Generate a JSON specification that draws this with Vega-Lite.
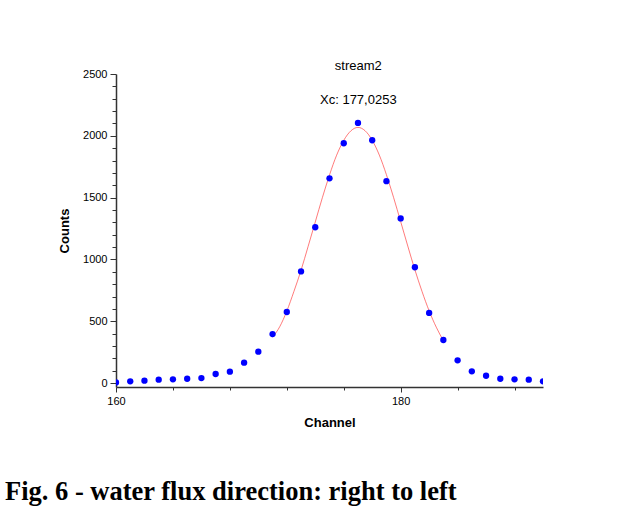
{
  "$schema": "https://vega.github.io/schema/vega-lite/v6.json",
  "width": 427,
  "height": 313,
  "autosize": {"type": "none"},
  "padding": {"left": 116, "top": 74, "right": 85, "bottom": 137},
  "background": "white",
  "title": {
    "text": "Fig. 6 - water flux direction: right to left",
    "orient": "bottom",
    "anchor": "start",
    "frame": "group",
    "dx": -111,
    "offset": 50,
    "font": "Liberation Serif",
    "fontSize": 26.5,
    "fontWeight": "bold",
    "color": "black"
  },
  "datasets": {
    "points": [
      {"Channel": 160, "Counts": 5},
      {"Channel": 161, "Counts": 14},
      {"Channel": 162, "Counts": 19},
      {"Channel": 163, "Counts": 27},
      {"Channel": 164, "Counts": 30},
      {"Channel": 165, "Counts": 35},
      {"Channel": 166, "Counts": 40},
      {"Channel": 167, "Counts": 73},
      {"Channel": 168, "Counts": 92},
      {"Channel": 169, "Counts": 165},
      {"Channel": 170, "Counts": 254},
      {"Channel": 171, "Counts": 396},
      {"Channel": 172, "Counts": 575},
      {"Channel": 173, "Counts": 903},
      {"Channel": 174, "Counts": 1260},
      {"Channel": 175, "Counts": 1656},
      {"Channel": 176, "Counts": 1940},
      {"Channel": 177, "Counts": 2104},
      {"Channel": 178, "Counts": 1964},
      {"Channel": 179, "Counts": 1633},
      {"Channel": 180, "Counts": 1332},
      {"Channel": 181, "Counts": 937},
      {"Channel": 182, "Counts": 567},
      {"Channel": 183, "Counts": 348},
      {"Channel": 184, "Counts": 184},
      {"Channel": 185, "Counts": 95},
      {"Channel": 186, "Counts": 59},
      {"Channel": 187, "Counts": 35},
      {"Channel": 188, "Counts": 30},
      {"Channel": 189, "Counts": 27},
      {"Channel": 190, "Counts": 14}
    ],
    "fit": [
      {"Channel": 171.0, "Fit": 370},
      {"Channel": 171.5, "Fit": 455},
      {"Channel": 172.0, "Fit": 582},
      {"Channel": 172.5, "Fit": 741},
      {"Channel": 173.0, "Fit": 912},
      {"Channel": 173.5, "Fit": 1106},
      {"Channel": 174.0, "Fit": 1303},
      {"Channel": 174.5, "Fit": 1500},
      {"Channel": 175.0, "Fit": 1683},
      {"Channel": 175.5, "Fit": 1843},
      {"Channel": 176.0, "Fit": 1963},
      {"Channel": 176.5, "Fit": 2040},
      {"Channel": 177.0, "Fit": 2068},
      {"Channel": 177.5, "Fit": 2041},
      {"Channel": 178.0, "Fit": 1964},
      {"Channel": 178.5, "Fit": 1844},
      {"Channel": 179.0, "Fit": 1685},
      {"Channel": 179.5, "Fit": 1502},
      {"Channel": 180.0, "Fit": 1306},
      {"Channel": 180.5, "Fit": 1108},
      {"Channel": 181.0, "Fit": 916},
      {"Channel": 181.5, "Fit": 741},
      {"Channel": 182.0, "Fit": 584},
      {"Channel": 182.5, "Fit": 452},
      {"Channel": 183.0, "Fit": 343}
    ],
    "annot": [
      {"Xc": 177.0253, "name": "stream2", "label": "Xc: 177,0253"}
    ]
  },
  "resolve": {"axis": {"x": "independent", "y": "independent"}},
  "layer": [
    {
      "data": {"name": "fit"},
      "mark": {"type": "line", "color": "#ff2020", "strokeWidth": 0.7, "opacity": 0.85, "interpolate": "monotone"},
      "encoding": {
        "x": {
          "field": "Channel", "type": "quantitative",
          "scale": {"domain": [160, 190], "nice": false, "zero": false},
          "axis": {"orient": "bottom", "values": [164, 168, 172, 176, 184, 188], "labels": false, "tickSize": 3, "domain": false, "title": null}
        },
        "y": {
          "field": "Fit", "type": "quantitative",
          "scale": {"domain": [-32, 2500], "nice": false, "zero": false},
          "axis": {"orient": "left", "values": [100, 200, 300, 400, 600, 700, 800, 900, 1100, 1200, 1300, 1400, 1600, 1700, 1800, 1900, 2100, 2200, 2300, 2400], "labels": false, "tickSize": 4, "domain": false, "title": null}
        }
      }
    },
    {
      "data": {"name": "points"},
      "mark": {"type": "point", "filled": true, "size": 40, "color": "#0000ff", "opacity": 1, "clip": true},
      "encoding": {
        "x": {
          "field": "Channel", "type": "quantitative",
          "axis": {"orient": "bottom", "values": [160, 180], "format": "d", "labelFlush": false, "tickSize": 5, "title": "Channel", "titlePadding": 10}
        },
        "y": {
          "field": "Counts", "type": "quantitative",
          "axis": {"orient": "left", "values": [0, 500, 1000, 1500, 2000, 2500], "format": "d", "labelFlush": false, "tickSize": 6, "title": "Counts", "titlePadding": 11}
        }
      }
    },
    {
      "data": {"name": "annot"},
      "mark": {"type": "text", "font": "Liberation Sans", "fontSize": 13, "color": "black", "baseline": "middle", "dy": -8},
      "encoding": {
        "x": {"field": "Xc", "type": "quantitative", "axis": null},
        "y": {"datum": 2500, "type": "quantitative", "axis": null},
        "text": {"field": "name"}
      }
    },
    {
      "data": {"name": "annot"},
      "mark": {"type": "text", "font": "Liberation Sans", "fontSize": 13, "color": "black", "baseline": "middle", "dy": 26},
      "encoding": {
        "x": {"field": "Xc", "type": "quantitative", "axis": null},
        "y": {"datum": 2500, "type": "quantitative", "axis": null},
        "text": {"field": "label"}
      }
    }
  ],
  "config": {
    "view": {"stroke": null},
    "axis": {
      "grid": false,
      "labelFont": "Liberation Sans",
      "labelFontSize": 11,
      "labelColor": "black",
      "labelPadding": 3,
      "titleFont": "Liberation Sans",
      "titleFontSize": 13,
      "titleFontWeight": "bold",
      "titleColor": "black",
      "domainColor": "#333333",
      "domainWidth": 1.5,
      "tickColor": "#333333",
      "tickWidth": 1
    }
  }
}
